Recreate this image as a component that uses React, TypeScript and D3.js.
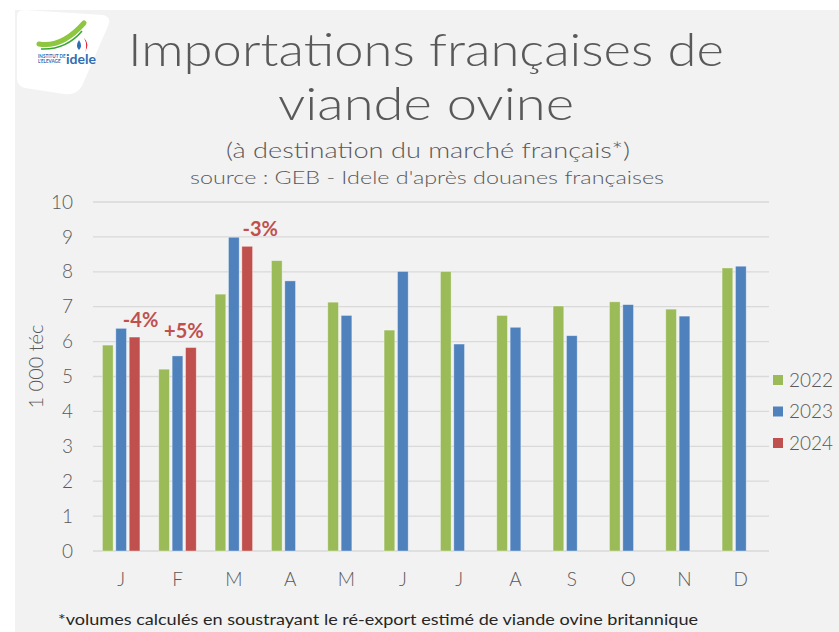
import React from 'react';
import * as d3 from 'd3';

const months = ['J', 'F', 'M', 'A', 'M', 'J', 'J', 'A', 'S', 'O', 'N', 'D'];
const years = ['2022', '2023', '2024'];
const values2022 = [5.9, 5.21, 7.36, 8.32, 7.13, 6.33, 8.01, 6.75, 7.02, 7.14, 6.93, 8.11];
const values2023 = [6.38, 5.59, 8.99, 7.74, 6.75, 8.01, 5.93, 6.41, 6.17, 7.06, 6.73, 8.16];
const values2024 = [6.13, 5.83, 8.73];
const changeLabels = ['-4%', '+5%', '-3%'];
const yTicks = [0, 1, 2, 3, 4, 5, 6, 7, 8, 9, 10];

const colors = ['#9bbb59', '#4f81bd', '#c0504d'];
const labelShift = [6, -7, 13];
const font = 'Lato, "DejaVu Sans", sans-serif';
const grey = '#595959';

const W = 839;
const H = 632;
const left = 93;
const right = 769;
const top = 202;
const bottom = 551;

const Logo = () => (
  <g>
    <path d="M17,16 Q17,10 24,10 L103,15 Q112,17 108,26 L82,86 Q76,96 64,94 L25,88 Q17,86 17,78 Z" fill="#ffffff" />
    <path d="M39,44 Q62,48 84,23" stroke="#8dc63f" strokeWidth={5} fill="none" strokeLinecap="round" />
    <path d="M41,49 Q66,50 82,31" stroke="#3aa537" strokeWidth={1.5} fill="none" />
    <path d="M79,40 Q75,46 79,50 Q83,46 79,40 Z" fill="#2e6db4" />
    <path d="M84,38 Q90,44 85,52 Q88,45 84,38 Z" fill="#e30613" />
    <text x={38} y={58} fontSize={4.6} fontWeight="bold" fill="#2e6db4" fontFamily={font}>INSTITUT DE</text>
    <text x={38} y={63} fontSize={4.6} fontWeight="bold" fill="#2e6db4" fontFamily={font}>L'ELEVAGE</text>
    <text x={66} y={64} fontSize={14} fontWeight="bold" fill="#2e6db4" fontFamily={font}>idele</text>
  </g>
);

export default function App() {
  const x = d3.scaleBand<number>().domain(d3.range(months.length)).range([left, right]);
  const inner = d3.scaleBand<string>().domain(years).range([-18.75, 18.75]).paddingInner(0.2);
  const y = d3.scaleLinear().domain([0, 10]).range([bottom, top]);
  const series = [values2022, values2023, values2024];

  return (
    <svg width={W} height={H} style={{ position: 'absolute', left: 0, top: 0 }} fontFamily={font}>
      <rect x={0} y={0} width={W} height={H} fill="#ffffff" />
      <rect x={15} y={10} width={W - 15} height={H - 10} fill="#f2f2f2" />
      <Logo />

      <text x={426} y={66} textAnchor="middle" fontSize={46} fontWeight={300} fill={grey} textLength={596} lengthAdjust="spacingAndGlyphs">
        Importations françaises de
      </text>
      <text x={426} y={120} textAnchor="middle" fontSize={46} fontWeight={300} fill={grey} textLength={296} lengthAdjust="spacingAndGlyphs">
        viande ovine
      </text>
      <text x={428} y={158} textAnchor="middle" fontSize={21} fontWeight={300} fill={grey} textLength={404} lengthAdjust="spacingAndGlyphs">
        (à destination du marché français*)
      </text>
      <text x={427} y={184} textAnchor="middle" fontSize={18} fontWeight={300} fill={grey} textLength={474} lengthAdjust="spacingAndGlyphs">
        source : GEB - Idele d'après douanes françaises
      </text>

      {yTicks.map((t) => (
        <g key={t}>
          <line x1={left} x2={right} y1={y(t)} y2={y(t)} stroke="#d9d9d9" strokeWidth={1.3} />
          <text x={73} y={y(t)} dy="0.35em" textAnchor="end" fontSize={19} fontWeight={300} fill={grey}>
            {t}
          </text>
        </g>
      ))}

      <text transform={`translate(43,${(top + bottom) / 2 - 10}) rotate(-90)`} textAnchor="middle" fontSize={20} fontWeight={300} fill={grey}>
        1 000  téc
      </text>

      {series.map((vals, s) =>
        vals.map((v, i) => (
          <rect
            key={`${s}-${i}`}
            x={x(i)! + x.bandwidth() / 2 + inner(years[s])!}
            y={y(v)}
            width={inner.bandwidth()}
            height={y(0) - y(v)}
            fill={colors[s]}
            stroke="#ffffff"
            strokeOpacity={0.45}
            strokeWidth={0.8}
          />
        ))
      )}

      {changeLabels.map((lab, i) => (
        <text
          key={lab}
          x={x(i)! + x.bandwidth() / 2 + inner('2024')! + inner.bandwidth() / 2 + labelShift[i]}
          y={y(values2024[i]) - 10}
          textAnchor="middle"
          fontSize={20}
          fontWeight="bold"
          fill="#c0504d"
        >
          {lab}
        </text>
      ))}

      {months.map((m, i) => (
        <text key={i} x={x(i)! + x.bandwidth() / 2} y={579} dy="0.35em" textAnchor="middle" fontSize={19} fontWeight={300} fill={grey}>
          {m}
        </text>
      ))}

      {years.map((yr, i) => (
        <g key={yr} transform={`translate(773,${380 + i * 31.5})`}>
          <rect x={0} y={-5} width={10} height={10} fill={colors[i]} />
          <text x={16} y={0} dy="0.36em" fontSize={19} fontWeight={300} fill={grey}>
            {yr}
          </text>
        </g>
      ))}

      <text x={58} y={625} fontSize={16} fill="#262626" textLength={640} lengthAdjust="spacingAndGlyphs">
        *volumes calculés en soustrayant le ré-export estimé de viande ovine britannique
      </text>
    </svg>
  );
}
